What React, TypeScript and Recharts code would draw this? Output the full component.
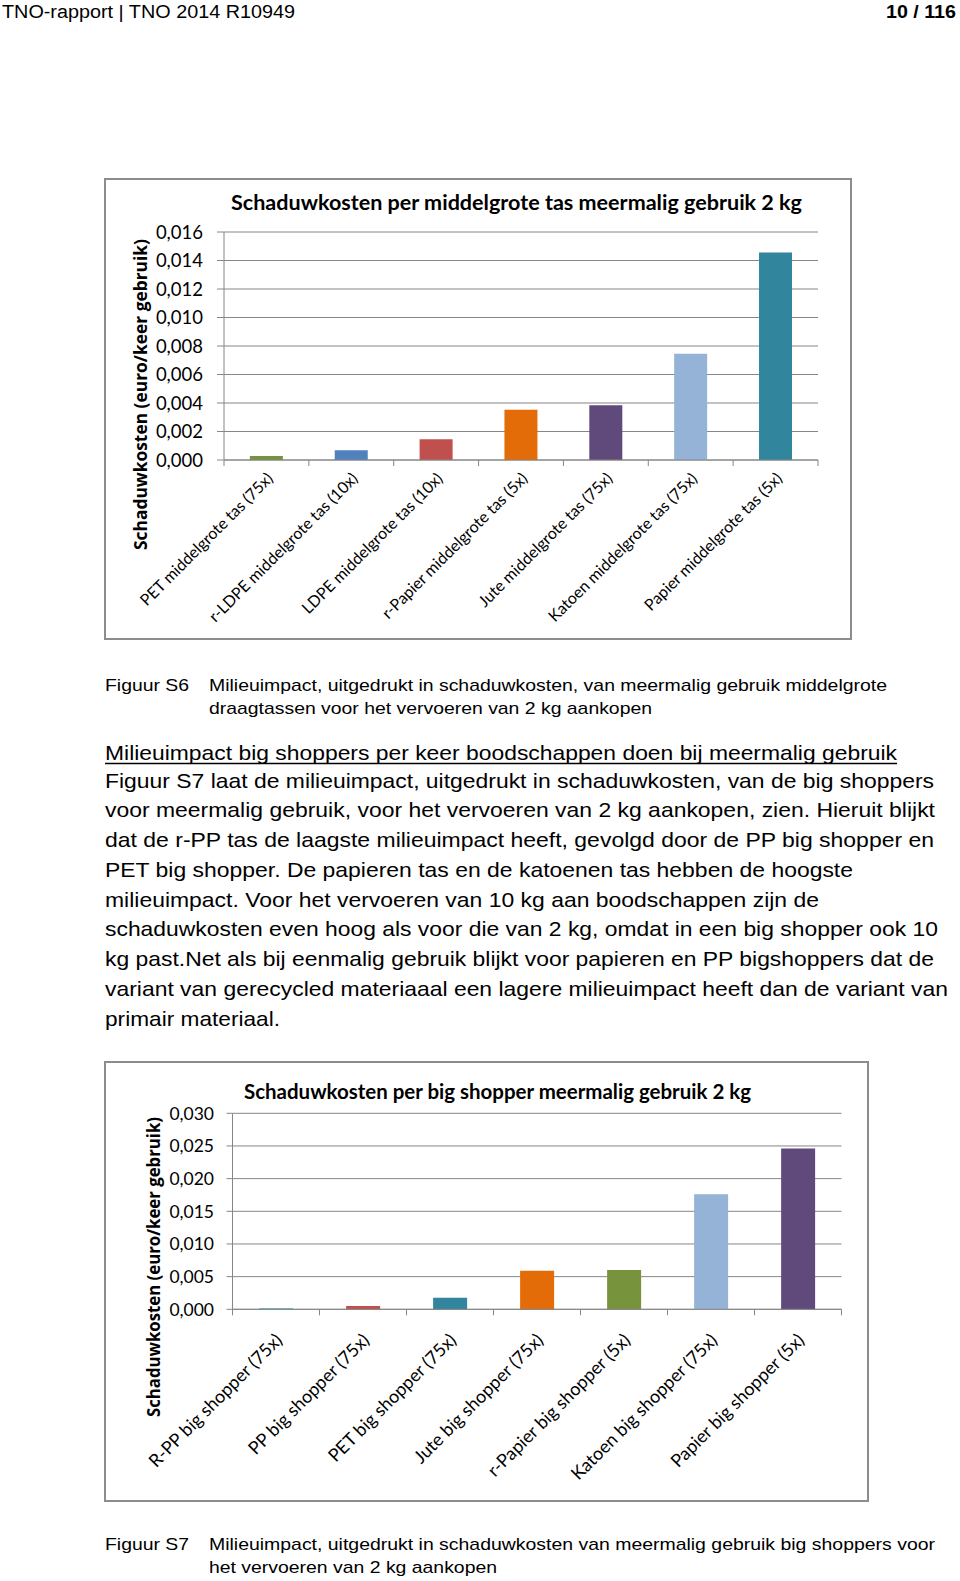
import React from 'react';
import { BarChart, Bar, XAxis, YAxis, CartesianGrid, Cell } from 'recharts';

// ---------- data ----------
const cats1 = [
  'PET middelgrote tas (75x)',
  'r-LDPE middelgrote tas (10x)',
  'LDPE middelgrote tas (10x)',
  'r-Papier middelgrote tas (5x)',
  'Jute middelgrote tas (75x)',
  'Katoen middelgrote tas (75x)',
  'Papier middelgrote tas (5x)',
];
const vals1 = [0.00028, 0.00068, 0.00146, 0.00353, 0.00384, 0.00745, 0.01456];
const colors1 = ['#77933C', '#4F81BD', '#C0504D', '#E36C09', '#604A7B', '#95B3D7', '#31859C'];
const ticks1 = [0, 0.002, 0.004, 0.006, 0.008, 0.01, 0.012, 0.014, 0.016];
const title1 = 'Schaduwkosten per middelgrote tas meermalig gebruik 2 kg';

const cats2 = [
  'R-PP big shopper (75x)',
  'PP big shopper (75x)',
  'PET big shopper (75x)',
  'Jute big shopper (75x)',
  'r-Papier big shopper (5x)',
  'Katoen big shopper (75x)',
  'Papier big shopper (5x)',
];
const vals2 = [0.00015, 0.0005, 0.00175, 0.0059, 0.006, 0.0176, 0.0246];
const colors2 = ['#4BACC6', '#C0504D', '#31859C', '#E36C09', '#77933C', '#95B3D7', '#604A7B'];
const ticks2 = [0, 0.005, 0.01, 0.015, 0.02, 0.025, 0.03];
const title2 = 'Schaduwkosten per big shopper meermalig gebruik 2 kg';

const yTitle = 'Schaduwkosten (euro/keer gebruik)';

const headerLeft = 'TNO-rapport |  TNO 2014 R10949';
const headerRight = '10 / 116';
const figS6 = 'Figuur S6';
const captionS6 = [
  'Milieuimpact, uitgedrukt in schaduwkosten, van meermalig gebruik middelgrote',
  'draagtassen voor het vervoeren van 2 kg aankopen',
];
const heading = 'Milieuimpact big shoppers per keer boodschappen doen bij meermalig gebruik';
const paragraph = [
  'Figuur S7 laat de milieuimpact, uitgedrukt in schaduwkosten, van de big shoppers',
  'voor meermalig gebruik, voor het vervoeren van 2 kg aankopen, zien. Hieruit blijkt',
  'dat de r-PP tas de laagste milieuimpact heeft, gevolgd door de PP big shopper en',
  'PET big shopper. De papieren tas en de katoenen tas hebben de hoogste',
  'milieuimpact. Voor het vervoeren van 10 kg aan boodschappen zijn de',
  'schaduwkosten even hoog als voor die van 2 kg, omdat in een big shopper ook 10',
  'kg past.Net als bij eenmalig gebruik blijkt voor papieren en PP bigshoppers dat de',
  'variant van gerecycled materiaaal een lagere milieuimpact heeft dan de variant van',
  'primair materiaal.',
];
const figS7 = 'Figuur S7';
const captionS7 = [
  'Milieuimpact, uitgedrukt in schaduwkosten van meermalig gebruik big shoppers voor',
  'het vervoeren van 2 kg aankopen',
];

// ---------- styling / layout ----------
const GRID = '#868686';
const CHART_FONT = 'Lato, "Open Sans", sans-serif';
const BODY_FONT = '"Liberation Sans", Arial, sans-serif';
const paraEnds = [934, 935, 934, 853, 819, 938, 934, 948, 280];

const fmt = (v: number) => v.toFixed(3).replace('.', ',');

type Cfg = {
  cats: string[];
  vals: number[];
  colors: string[];
  ticks: number[];
  left: number;
  top: number;
  width: number;
  height: number;
  margin: { top: number; right: number; bottom: number; left: number };
  yWidth: number;
  xHeight: number;
  ySize: number;
  yMargin: number;
  yFont: number;
  xFont: number;
  dx: number;
  dy: number;
  gap: string;
};

function makeTick(cfg: Cfg) {
  const plotW = cfg.width - cfg.margin.left - cfg.margin.right - cfg.yWidth;
  const bw = plotW / cfg.cats.length;
  return (props: any) => {
    const { x, y, payload } = props;
    const i = cfg.cats.indexOf(payload.value);
    const last = i === cfg.cats.length - 1;
    return (
      <g>
        <line x1={x - bw / 2} x2={x - bw / 2} y1={y} y2={y + 6} stroke={GRID} />
        {last && <line x1={x + bw / 2} x2={x + bw / 2} y1={y} y2={y + 6} stroke={GRID} />}
        <text
          transform={`translate(${x + cfg.dx},${y + cfg.dy}) rotate(-45)`}
          textAnchor="end"
          dominantBaseline="central"
          fontSize={cfg.xFont}
          fontFamily={CHART_FONT}
          fill="#000"
        >
          {payload.value}
        </text>
      </g>
    );
  };
}

function Chart({ cfg }: { cfg: Cfg }) {
  const data = cfg.cats.map((name, i) => ({ name, value: cfg.vals[i] }));
  const Tick = makeTick(cfg);
  return (
    <div style={{ position: 'absolute', left: cfg.left, top: cfg.top }}>
      <BarChart
        width={cfg.width}
        height={cfg.height}
        data={data}
        margin={cfg.margin}
        barCategoryGap={cfg.gap}
      >
        <CartesianGrid vertical={false} stroke={GRID} strokeWidth={1} />
        <YAxis
          type="number"
          domain={[cfg.ticks[0], cfg.ticks[cfg.ticks.length - 1]]}
          ticks={cfg.ticks}
          interval={0}
          tickFormatter={fmt}
          width={cfg.yWidth}
          tickSize={cfg.ySize}
          tickMargin={cfg.yMargin}
          axisLine={{ stroke: GRID }}
          tickLine={{ stroke: GRID }}
          tick={{ fontSize: cfg.yFont, fill: '#000', fontFamily: CHART_FONT }}
        />
        <XAxis
          dataKey="name"
          interval={0}
          height={cfg.xHeight}
          tickSize={0}
          tickMargin={0}
          tickLine={false}
          axisLine={{ stroke: GRID }}
          tick={Tick}
        />
        <Bar dataKey="value" isAnimationActive={false}>
          {data.map((d, i) => (
            <Cell key={d.name} fill={cfg.colors[i]} />
          ))}
        </Bar>
      </BarChart>
    </div>
  );
}

const cfg1: Cfg = {
  cats: cats1,
  vals: vals1,
  colors: colors1,
  ticks: ticks1,
  left: 105,
  top: 179,
  width: 746,
  height: 459,
  margin: { top: 53, right: 33, bottom: 148, left: 49 },
  yWidth: 70,
  xHeight: 30,
  ySize: 7,
  yMargin: 14,
  yFont: 18.5,
  xFont: 16,
  dx: 3,
  dy: 15,
  gap: '30.5%',
};

const cfg2: Cfg = {
  cats: cats2,
  vals: vals2,
  colors: colors2,
  ticks: ticks2,
  left: 105,
  top: 1062,
  width: 763,
  height: 439,
  margin: { top: 51.3, right: 26.5, bottom: 161.7, left: 57.5 },
  yWidth: 70,
  xHeight: 30,
  ySize: 6,
  yMargin: 12.5,
  yFont: 17.5,
  xFont: 18,
  dx: 2.5,
  dy: 27,
  gap: '30.6%',
};

function T(props: {
  x: number;
  y: number;
  len: number;
  size: number;
  bold?: boolean;
  font?: string;
  children: string;
}) {
  return (
    <text
      x={props.x}
      y={props.y}
      fontSize={props.size}
      fontFamily={props.font || BODY_FONT}
      fontWeight={props.bold ? 700 : 400}
      textLength={props.len}
      lengthAdjust="spacingAndGlyphs"
      fill="#000"
    >
      {props.children}
    </text>
  );
}

function YTitle({ x, y, len }: { x: number; y: number; len: number }) {
  return (
    <text
      transform={`translate(${x},${y}) rotate(-90)`}
      textAnchor="middle"
      dominantBaseline="central"
      fontSize={18}
      fontWeight={700}
      fontFamily='"Open Sans", sans-serif'
      textLength={len}
      lengthAdjust="spacingAndGlyphs"
      fill="#000"
    >
      {yTitle}
    </text>
  );
}

export default function App() {
  return (
    <div
      style={{
        position: 'absolute',
        left: 0,
        top: 0,
        width: 960,
        height: 1581,
        overflow: 'hidden',
        background: '#fff',
      }}
    >
      {/* chart frames */}
      <div
        style={{
          position: 'absolute',
          left: 104,
          top: 178,
          width: 748,
          height: 462,
          border: '2px solid #8c8c8c',
          boxSizing: 'border-box',
        }}
      />
      <div
        style={{
          position: 'absolute',
          left: 104,
          top: 1061,
          width: 765,
          height: 441,
          border: '2px solid #8c8c8c',
          boxSizing: 'border-box',
        }}
      />
      <Chart cfg={cfg1} />
      <Chart cfg={cfg2} />
      <svg
        width={960}
        height={1581}
        style={{ position: 'absolute', left: 0, top: 0, pointerEvents: 'none' }}
      >
        {/* header */}
        <T x={2} y={18} len={293} size={18}>{headerLeft}</T>
        <T x={886} y={18} len={70} size={18} bold>{headerRight}</T>

        {/* chart 1 titles */}
        <T x={231} y={210} len={571} size={20} bold font={CHART_FONT}>{title1}</T>
        <YTitle x={140} y={394.5} len={311} />

        {/* caption S6 */}
        <T x={105} y={691} len={84} size={17}>{figS6}</T>
        <T x={209} y={691} len={678} size={17}>{captionS6[0]}</T>
        <T x={209} y={714} len={443} size={17}>{captionS6[1]}</T>

        {/* heading */}
        <T x={105} y={760} len={792} size={21}>{heading}</T>
        <line x1={105} x2={897} y1={763.5} y2={763.5} stroke="#000" strokeWidth={1.3} />

        {/* paragraph */}
        {paragraph.map((line, i) => (
          <T key={i} x={105} y={787.5 + 29.75 * i} len={paraEnds[i] - 105} size={21}>
            {line}
          </T>
        ))}

        {/* chart 2 titles */}
        <T x={244} y={1099} len={507} size={20} bold font={CHART_FONT}>{title2}</T>
        <YTitle x={152.5} y={1267} len={300} />

        {/* caption S7 */}
        <T x={105} y={1550} len={84} size={17}>{figS7}</T>
        <T x={209} y={1550} len={726} size={17}>{captionS7[0]}</T>
        <T x={209} y={1573} len={288} size={17}>{captionS7[1]}</T>
      </svg>
    </div>
  );
}
